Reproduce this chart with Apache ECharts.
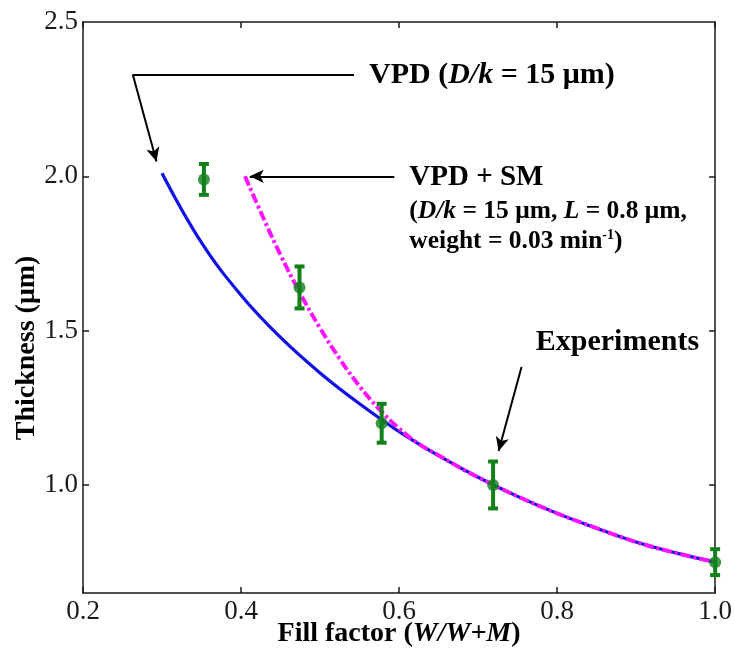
<!DOCTYPE html>
<html>
<head>
<meta charset="utf-8">
<script src="https://cdn.jsdelivr.net/npm/echarts@6/dist/echarts.min.js"></script>
<style>
  html, body { margin: 0; padding: 0; background: #fff; }
  #chart { width: 735px; height: 655px; }
</style>
</head>
<body>
<div id="chart"></div>
<script>
// Axis ticks
const xTicks = [0.2, 0.4, 0.6, 0.8, 1.0];
const yTicks = [1.0, 1.5, 2.0, 2.5];

// VPD model (D/k = 15 µm)
const vpdX = [0.30, 0.35, 0.40, 0.45, 0.50, 0.55, 0.60, 0.65, 0.70, 0.75, 0.80, 0.85, 0.90, 0.95, 1.00];
const vpdY = [2.01, 1.785, 1.615, 1.478, 1.363, 1.263, 1.173, 1.095, 1.025, 0.963, 0.908, 0.86, 0.815, 0.78, 0.75];

// VPD + SM model
const smX = [0.405, 0.43, 0.45, 0.475, 0.50, 0.525, 0.55, 0.575, 0.60, 0.625, 0.65, 0.675, 0.70, 0.75, 0.80, 0.85, 0.90, 0.95, 1.00];
const smY = [2.00, 1.855, 1.745, 1.62, 1.508, 1.408, 1.32, 1.245, 1.183, 1.133, 1.096, 1.059, 1.025, 0.963, 0.908, 0.86, 0.815, 0.78, 0.75];

// Measured thickness with error bars
const expX = [0.353, 0.474, 0.578, 0.719, 1.0];
const expY = [1.99, 1.64, 1.20, 1.00, 0.75];
const expErr = [0.05, 0.068, 0.063, 0.076, 0.042];

const FONT = 'Liberation Serif';
const INK = '#1a1a1a';
const GREEN = '#13801a';

const zip = (xs, ys) => xs.map((x, i) => [x, ys[i]]);

const chart = echarts.init(document.getElementById('chart'), null, { renderer: 'canvas' });

const axisLine = { show: true, lineStyle: { color: INK, width: 1.5 } };

chart.setOption({
  animation: false,
  backgroundColor: '#fff',
  grid: { left: 83, right: 18, top: 22, bottom: 62 },
  xAxis: [
    {
      type: 'value', min: xTicks[0], max: xTicks[xTicks.length - 1], interval: 0.2, position: 'bottom',
      axisLine,
      splitLine: { show: false },
      axisTick: { inside: true, length: 6, lineStyle: { color: INK, width: 1.5 } },
      axisLabel: { color: INK, fontFamily: FONT, fontSize: 27, margin: 5,
                   customValues: xTicks, formatter: v => v.toFixed(1) }
    },
    {
      type: 'value', min: xTicks[0], max: xTicks[xTicks.length - 1], interval: 0.2, position: 'top',
      axisLine,
      splitLine: { show: false },
      axisTick: { inside: true, length: 6, lineStyle: { color: INK, width: 1.5 } },
      axisLabel: { show: false }
    }
  ],
  yAxis: [
    {
      type: 'value', min: 0.65, max: 2.5, position: 'left',
      axisLine,
      splitLine: { show: false },
      axisTick: { inside: true, length: 6, customValues: yTicks.slice(0, 3),
                  lineStyle: { color: INK, width: 1.5 } },
      axisLabel: { color: INK, fontFamily: FONT, fontSize: 27, margin: 5,
                   customValues: yTicks, formatter: v => v.toFixed(1) }
    },
    {
      type: 'value', min: 0.65, max: 2.5, position: 'right',
      axisLine,
      splitLine: { show: false },
      axisTick: { inside: true, length: 6, customValues: yTicks.slice(0, 3),
                  lineStyle: { color: INK, width: 1.5 } },
      axisLabel: { show: false, customValues: yTicks }
    }
  ],
  series: [
    {
      name: 'VPD', type: 'line', data: zip(vpdX, vpdY), smooth: 0.4,
      showSymbol: false, lineStyle: { color: '#1010e6', width: 3.2 }, z: 2,
      markLine: {
        silent: true, animation: false,
        symbol: ['none', 'arrow'], symbolSize: [10, 14],
        label: { show: false },
        lineStyle: { color: '#000', width: 2, type: 'solid' },
        emphasis: { disabled: true },
        data: [
          [{ coord: [0.263, 2.33], symbol: 'none' }, { coord: [0.543, 2.33], symbol: 'none' }],
          [{ coord: [0.263, 2.33] }, { coord: [0.293, 2.048] }],
          [{ coord: [0.594, 2.0] }, { coord: [0.411, 2.0] }],
          [{ coord: [0.755, 1.382] }, { coord: [0.726, 1.11] }]
        ]
      }
    },
    {
      name: 'VPD + SM', type: 'line', data: zip(smX, smY), smooth: 0.4,
      showSymbol: false, z: 3,
      lineStyle: { color: '#ff14ff', width: 4, type: [10, 3, 3, 3] }
    },
    {
      name: 'Error', type: 'custom', z: 4, clip: false,
      data: expX.map((x, i) => [x, expY[i], expErr[i]]),
      renderItem: (params, api) => {
        const x = api.value(0), y = api.value(1), e = api.value(2);
        const top = api.coord([x, y + e]);
        const bot = api.coord([x, y - e]);
        const hw = 5;
        const st = { stroke: GREEN, lineWidth: 4 };
        return {
          type: 'group',
          children: [
            { type: 'line', shape: { x1: top[0], y1: top[1], x2: bot[0], y2: bot[1] }, style: st },
            { type: 'line', shape: { x1: top[0] - hw, y1: top[1], x2: top[0] + hw, y2: top[1] }, style: st },
            { type: 'line', shape: { x1: bot[0] - hw, y1: bot[1], x2: bot[0] + hw, y2: bot[1] }, style: st }
          ]
        };
      }
    },
    {
      name: 'Experiments', type: 'scatter', z: 5, clip: false,
      data: zip(expX, expY), symbol: 'circle', symbolSize: 12,
      itemStyle: { color: GREEN }
    }
  ]
});

// Text annotations placed in data coordinates
const px = (x, y) => chart.convertToPixel({ xAxisIndex: 0, yAxisIndex: 0 }, [x, y]);
const bold = (size) => ({ fontFamily: FONT, fontWeight: 'bold', fontSize: size, fill: '#000', color: '#000' });
const boldIt = (size) => Object.assign(bold(size), { fontStyle: 'italic' });

function label(pos, text, rich) {
  return {
    type: 'text', x: pos[0], y: pos[1], silent: true,
    style: { text, rich, align: 'left', verticalAlign: 'middle' }
  };
}

const p1 = px(0.562, 2.328);
const p2 = px(0.613, 1.995);
const p3 = px(0.613, 1.885);
const p4 = px(0.613, 1.788);
const p5 = px(0.773, 1.463);
const pxTitle = px(0.6, 0.65);
const pyTitle = px(0.2, 1.12);

chart.setOption({
  graphic: [
    label(p1, '{b|VPD (}{i|D/k}{b| = 15 μm)}', { b: bold(30), i: boldIt(30) }),
    label(p2, '{b|VPD + SM}', { b: bold(29) }),
    label(p3, '{b|(}{i|D/k}{b| = 15 μm, }{i|L}{b| = 0.8 μm,}', { b: bold(25.5), i: boldIt(25.5) }),
    label(p4, '{b|weight = 0.03 min}{s|-1}{b|)}',
          { b: bold(25.5), s: Object.assign(bold(14), { verticalAlign: 'top' }) }),
    label(p5, '{b|Experiments}', { b: bold(30) }),
    {
      type: 'text', x: pxTitle[0], y: pxTitle[1] + 41, silent: true,
      style: { text: '{b|Fill factor (}{i|W/W+M}{b|)}',
               rich: { b: bold(28), i: boldIt(28) }, align: 'center', verticalAlign: 'middle' }
    },
    {
      type: 'text', x: 27, y: pyTitle[1] - 100, rotation: Math.PI / 2, silent: true,
      style: { text: '{b|Thickness (μm)}', rich: { b: bold(28) },
               align: 'center', verticalAlign: 'middle' }
    }
  ]
});
</script>
</body>
</html>
